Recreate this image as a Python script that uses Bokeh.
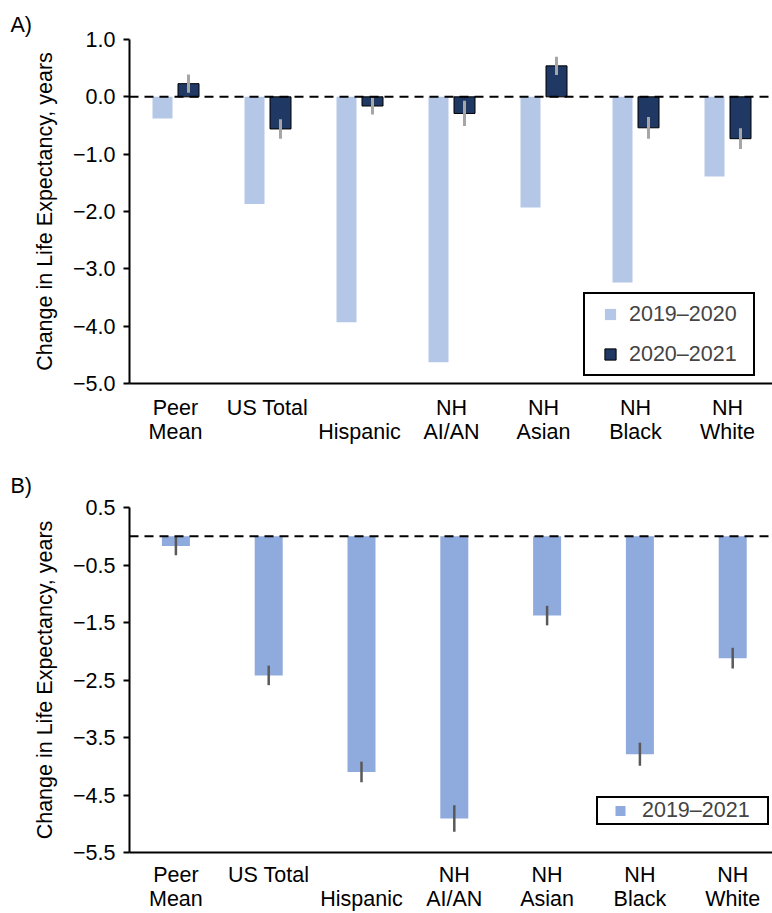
import numpy as np
from bokeh.plotting import figure
from bokeh.models import Range1d, FixedTicker, Span, Legend, LegendItem, Title
from bokeh.layouts import column
from bokeh.embed import file_html
from bokeh.resources import INLINE

# ---------------- data ----------------
categories_line1 = ["Peer", "US Total", "", "NH", "NH", "NH", "NH"]
categories_line2 = ["Mean", "", "Hispanic", "AI/AN", "Asian", "Black", "White"]

change_2019_2020 = [-0.38, -1.87, -3.93, -4.63, -1.93, -3.24, -1.39]
change_2020_2021 = [0.23, -0.56, -0.16, -0.29, 0.54, -0.54, -0.73]
err_2020_2021 = [0.16, 0.17, 0.15, 0.22, 0.16, 0.19, 0.18]

change_2019_2021 = [-0.17, -2.42, -4.10, -4.91, -1.38, -3.79, -2.12]
err_2019_2021 = [0.16, 0.17, 0.18, 0.23, 0.17, 0.20, 0.18]

ticks_a = [1.0, 0.0, -1.0, -2.0, -3.0, -4.0, -5.0]
ticks_b = [0.5, -0.5, -1.5, -2.5, -3.5, -4.5, -5.5]
legend_a = ["2019\u20132020", "2020\u20132021"]
legend_b = ["2019\u20132021"]
y_title = "Change in Life Expectancy, years"
panel_a = "A)"
panel_b = "B)"

# ---------------- style ----------------
FONT = "Liberation Sans"
FS = "21.5px"
LIGHT = "#B4C7E7"
DARK = "#1F3864"
MID = "#8FAADC"
W = 772
LEFT = 129
FW = W - LEFT


def fmt(t):
    return f"{t:.1f}".replace("-", "\u2212")


def style_common(p, ticks, xstandoff):
    p.outline_line_color = None
    p.xgrid.grid_line_color = None
    p.ygrid.grid_line_color = None
    p.background_fill_color = "white"
    p.yaxis.ticker = FixedTicker(ticks=ticks)
    p.yaxis.major_label_overrides = {t: fmt(t) for t in ticks}
    p.yaxis.bounds = (min(ticks), max(ticks))
    p.yaxis.axis_line_width = 2
    p.yaxis.major_tick_line_width = 2
    p.yaxis.major_tick_out = 6
    p.yaxis.major_tick_in = 0
    p.yaxis.minor_tick_line_color = None
    p.yaxis.major_label_standoff = 8
    p.yaxis.major_label_text_font = FONT
    p.yaxis.major_label_text_font_size = FS
    p.yaxis.major_label_text_color = "black"
    p.yaxis.axis_label = y_title
    p.yaxis.axis_label_text_font = FONT
    p.yaxis.axis_label_text_font_size = FS
    p.yaxis.axis_label_text_font_style = "normal"
    p.yaxis.axis_label_text_color = "black"
    p.yaxis.axis_label_standoff = 13

    xlabels = {}
    for x, l1, l2 in zip(idx, categories_line1, categories_line2):
        xlabels[float(x)] = (l1 + "\n" + l2) if l2 else l1
    p.xaxis.ticker = FixedTicker(ticks=[float(x) for x in idx])
    p.xaxis.major_label_overrides = xlabels
    p.xaxis.axis_line_width = 2
    p.xaxis.major_tick_line_color = None
    p.xaxis.major_tick_out = 0
    p.xaxis.major_tick_in = 0
    p.xaxis.minor_tick_line_color = None
    p.xaxis.major_label_standoff = xstandoff
    p.xaxis.major_label_text_font = FONT
    p.xaxis.major_label_text_font_size = FS
    p.xaxis.major_label_text_line_height = 1.0
    p.xaxis.major_label_text_color = "black"


def panel_title(text, standoff):
    return Title(text=text, align="left", offset=10 - LEFT, standoff=standoff,
                 text_font=FONT, text_font_size=FS, text_font_style="normal",
                 text_color="black")


idx = np.arange(len(categories_line1)) + 0.5

# ---------------- panel A ----------------
ppx_a = 92.0
pA = figure(width=W, height=456, output_backend="svg", toolbar_location=None,
            x_range=Range1d(0, FW / ppx_a), y_range=Range1d(-5, 1),
            min_border_left=LEFT, min_border_right=0,
            min_border_top=39, min_border_bottom=73,
            title=panel_title(panel_a, 6))
style_common(pA, ticks_a, 12)

off = 13 / ppx_a
v20 = np.array(change_2019_2020)
v21 = np.array(change_2020_2021)
e21 = np.array(err_2020_2021)
pA.vbar(x=idx - off, top=v20, bottom=0, width=20 / ppx_a,
        fill_color=LIGHT, line_color=None)
pA.vbar(x=idx + off, top=v21, bottom=0, width=21 / ppx_a,
        fill_color=DARK, line_color="black", line_width=1)
pA.segment(x0=idx + off, x1=idx + off, y0=v21 - e21, y1=v21 + e21,
           line_color="#A6A6A6", line_width=3)
pA.add_layout(Span(location=0, dimension="width", line_color="black",
                   line_width=2, line_dash="9 6"))

# legend proxies (muted -> invisible in plot, drawn normally in legend)
rA1 = pA.scatter(x=idx - off, y=v20, marker="square", fill_color=LIGHT,
                 line_color=None, muted_alpha=0)
rA2 = pA.scatter(x=idx + off, y=v21, marker="square", fill_color=DARK,
                 line_color="black", line_width=1, muted_alpha=0)
rA1.muted = True
rA2.muted = True
legA = Legend(items=[LegendItem(label=legend_a[0], renderers=[rA1]),
                     LegendItem(label=legend_a[1], renderers=[rA2])],
              location=(454, 7), margin=0, padding=6, spacing=12,
              glyph_width=38, glyph_height=28, label_standoff=0,
              label_width=118, label_height=28,
              label_text_font=FONT, label_text_font_size=FS,
              border_line_color="black", border_line_width=2,
              border_line_alpha=1,
              background_fill_color="white", background_fill_alpha=1)
pA.add_layout(legA)

# ---------------- panel B ----------------
ppx_b = 92.8
pB = figure(width=W, height=457, output_backend="svg", toolbar_location=None,
            x_range=Range1d(0, FW / ppx_b),
            y_range=Range1d(ticks_b[-1], ticks_b[0]),
            min_border_left=LEFT, min_border_right=0,
            min_border_top=51, min_border_bottom=60,
            title=panel_title(panel_b, 19))
style_common(pB, ticks_b, 10)

vb = np.array(change_2019_2021)
eb = np.array(err_2019_2021)
pB.vbar(x=idx, top=vb, bottom=0, width=28 / ppx_b,
        fill_color=MID, line_color=None)
pB.segment(x0=idx, x1=idx, y0=vb - eb, y1=vb + eb,
           line_color="#595959", line_width=2.5)
pB.add_layout(Span(location=0, dimension="width", line_color="black",
                   line_width=2, line_dash="9 6"))

rB1 = pB.scatter(x=idx, y=vb, marker="square", fill_color=MID,
                 line_color=None, muted_alpha=0)
rB1.muted = True
legB = Legend(items=[LegendItem(label=legend_b[0], renderers=[rB1])],
              location=(467, 27), margin=0, padding=0, spacing=0,
              glyph_width=44, glyph_height=25, label_standoff=0,
              label_width=125, label_height=25,
              label_text_font=FONT, label_text_font_size=FS,
              border_line_color="black", border_line_width=2,
              border_line_alpha=1,
              background_fill_color="white", background_fill_alpha=1)
pB.add_layout(legB)

layout = column(pA, pB, spacing=0)
open("out.html", "w").write(file_html(layout, INLINE))
